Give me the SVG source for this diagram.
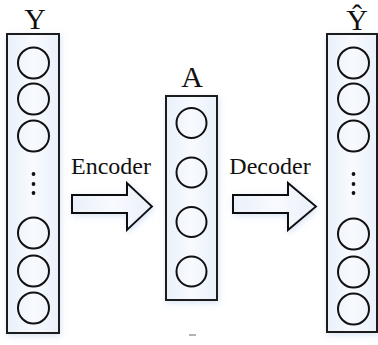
<svg xmlns="http://www.w3.org/2000/svg" width="378" height="345" viewBox="0 0 378 345">
  <defs>
    <!-- soft blue halo around each layer box and arrow -->
    <filter id="glow" x="-30%" y="-10%" width="160%" height="120%">
      <feFlood flood-color="#b9cdee" flood-opacity="0.55" result="c"/>
      <feComposite in="c" in2="SourceAlpha" operator="in" result="s"/>
      <feGaussianBlur in="s" stdDeviation="3" result="b"/>
      <feOffset in="b" dx="1" dy="2" result="o"/>
      <feMerge><feMergeNode in="o"/><feMergeNode in="SourceGraphic"/></feMerge>
    </filter>
    <linearGradient id="boxFill" x1="0" y1="0" x2="1" y2="0">
      <stop offset="0" stop-color="#eaf0fa"/>
      <stop offset="0.5" stop-color="#f8fafe"/>
      <stop offset="1" stop-color="#eaf0fa"/>
    </linearGradient>
  </defs>
  <style>
    .box { fill: url(#boxFill); stroke: #1a1a1a; stroke-width: 2; filter: url(#glow); }
    .unit { fill: none; stroke: #111; stroke-width: 2; }
    .dot { fill: #111; }
    .label { font-family: "Liberation Serif", "Times New Roman", serif; fill: #111; text-anchor: middle; }
    .title { font-size: 30px; }
    .arrowtext { font-size: 24px; }
    .arrow { fill: url(#boxFill); stroke: #111; stroke-width: 2; stroke-linejoin: miter; filter: url(#glow); }
  </style>
  <rect width="378" height="345" fill="#ffffff"/>

  <!-- input layer Y -->
  <g id="layer-Y">
    <text class="label title" x="35" y="29">Y</text>
    <rect class="box" x="7" y="34" width="52" height="299"/>
    <circle class="unit" cx="33.5" cy="63" r="15.5"/>
    <circle class="unit" cx="33.5" cy="99" r="15.5"/>
    <circle class="unit" cx="33.5" cy="136" r="15.5"/>
    <circle class="dot" cx="33.5" cy="174" r="1.9"/>
    <circle class="dot" cx="33.5" cy="184" r="1.9"/>
    <circle class="dot" cx="33.5" cy="193" r="1.9"/>
    <circle class="unit" cx="33.5" cy="233" r="15.5"/>
    <circle class="unit" cx="33.5" cy="271" r="15.5"/>
    <circle class="unit" cx="33.5" cy="308" r="15.5"/>
  </g>

  <!-- latent layer A -->
  <g id="layer-A">
    <text class="label title" x="192" y="87">A</text>
    <rect class="box" x="166" y="96" width="51" height="204"/>
    <circle class="unit" cx="191.5" cy="123" r="15"/>
    <circle class="unit" cx="191.5" cy="172.5" r="15"/>
    <circle class="unit" cx="191.5" cy="222" r="15"/>
    <circle class="unit" cx="191.5" cy="271.5" r="15"/>
    <line x1="189" y1="335" x2="196" y2="335" stroke="#9a9a9a" stroke-width="1.5"/>
  </g>

  <!-- reconstructed layer Ŷ -->
  <g id="layer-Yhat">
    <text class="label title" x="357" y="30">Ŷ</text>
    <rect class="box" x="327" y="34" width="50" height="298"/>
    <circle class="unit" cx="353.5" cy="63" r="15.5"/>
    <circle class="unit" cx="353.5" cy="99" r="15.5"/>
    <circle class="unit" cx="353.5" cy="136" r="15.5"/>
    <circle class="dot" cx="353.5" cy="174" r="1.9"/>
    <circle class="dot" cx="353.5" cy="184" r="1.9"/>
    <circle class="dot" cx="353.5" cy="193" r="1.9"/>
    <circle class="unit" cx="353.5" cy="234" r="15.5"/>
    <circle class="unit" cx="353.5" cy="272" r="15.5"/>
    <circle class="unit" cx="353.5" cy="309" r="15.5"/>
  </g>

  <!-- block arrows between layers -->
  <g id="connectors">
    <g id="encoder">
      <text class="label arrowtext" x="111" y="174">Encoder</text>
      <polygon class="arrow" points="72,195 127,195 127,183 152,206.5 127,230 127,213 72,213"/>
    </g>
    <g id="decoder">
      <text class="label arrowtext" x="270" y="174">Decoder</text>
      <polygon class="arrow" points="233,195 288,195 288,183 316,206.5 288,230 288,213 233,213"/>
    </g>
  </g>
</svg>
